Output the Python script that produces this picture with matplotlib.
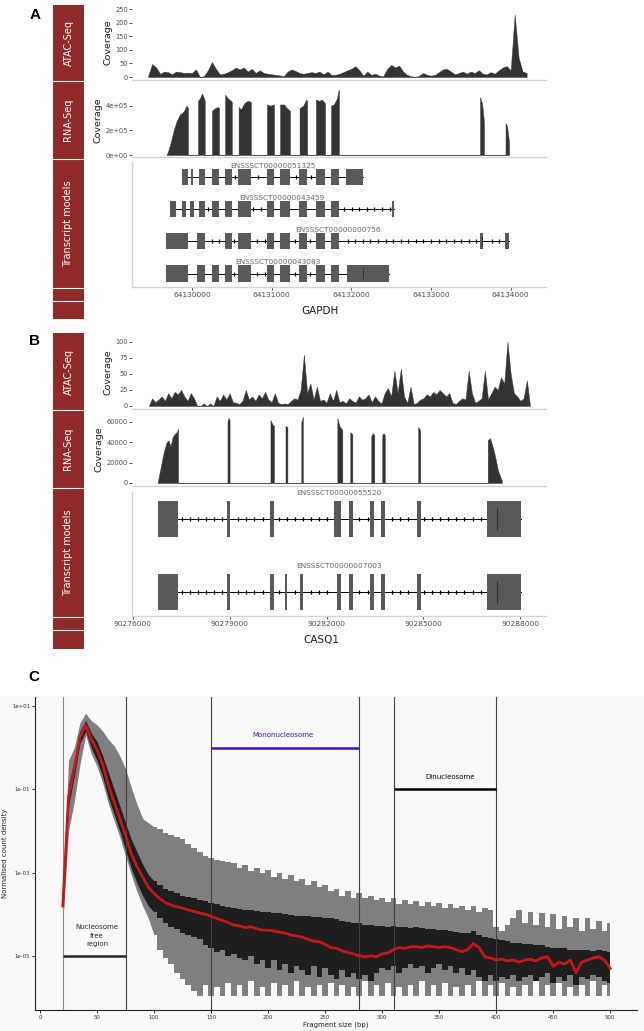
import numpy as np
import matplotlib.pyplot as plt
from matplotlib.patches import Rectangle
from matplotlib.lines import Line2D
from matplotlib.ticker import NullLocator

W, H = 644, 1031

# ---------------- A: GAPDH ----------------
gapdh_atac_start = 64129450
gapdh_atac_step = 50
gapdh_atac_cov = [5, 48, 35, 12, 20, 18, 10, 20, 18, 15,
                  16, 15, 28, 0, 3, 25, 55, 30, 10, 12,
                  18, 25, 35, 28, 35, 20, 30, 15, 25, 15,
                  12, 10, 8, 6, 3, 20, 28, 22, 15, 12,
                  15, 18, 15, 20, 10, 20, 8, 8, 12, 18,
                  25, 30, 40, 25, 5, 20, 8, 12, 5, 3,
                  30, 45, 35, 42, 20, 8, 3, 0, 5, 15,
                  8, 5, 8, 18, 28, 30, 20, 10, 15, 20,
                  12, 20, 15, 25, 12, 10, 18, 12, 25, 35,
                  40, 25, 230, 70, 20, 15]

gapdh_rna_pos = [64129680, 64129700, 64129740, 64129770, 64129810, 64129850, 64129890, 64129910, 64129930, 64129945, 64129950, 64129950,
                 64130075, 64130075, 64130100, 64130125, 64130150, 64130160, 64130160,
                 64130250, 64130250, 64130290, 64130325, 64130340, 64130340,
                 64130415, 64130415, 64130450, 64130490, 64130500, 64130500,
                 64130585, 64130585, 64130615, 64130655, 64130700, 64130740, 64130740,
                 64130940, 64130940, 64130980, 64131030, 64131030,
                 64131105, 64131105, 64131155, 64131190, 64131230, 64131230,
                 64131350, 64131350, 64131395, 64131435, 64131445, 64131445,
                 64131555, 64131555, 64131595, 64131630, 64131670, 64131670,
                 64131745, 64131745, 64131780, 64131820, 64131840, 64131845, 64131845,
                 64133615, 64133615, 64133640, 64133660, 64133665, 64133665,
                 64133935, 64133935, 64133955, 64133980, 64133980]
gapdh_rna_cov = [0, 30000, 120000, 200000, 280000, 330000, 350000, 370000, 400000, 390000, 380000, 0,
                 0, 440000, 460000, 500000, 460000, 440000, 0,
                 0, 360000, 380000, 390000, 380000, 0,
                 0, 490000, 460000, 440000, 430000, 0,
                 0, 390000, 370000, 420000, 440000, 430000, 0,
                 0, 410000, 400000, 410000, 0,
                 0, 410000, 410000, 380000, 360000, 0,
                 0, 380000, 400000, 450000, 440000, 0,
                 0, 450000, 440000, 450000, 420000, 0,
                 0, 400000, 410000, 460000, 530000, 520000, 0,
                 0, 470000, 420000, 300000, 250000, 0,
                 0, 260000, 230000, 100000, 0]

gapdh_tx_names = ['ENSSSCT00000051325', 'ENSSSCT00000043459',
                  'ENSSSCT00000000756', 'ENSSSCT00000043083']
gapdh_tx_exons = [
    [(64129875, 64129950), (64129990, 64130010), (64130090, 64130160), (64130250, 64130340),
     (64130415, 64130500), (64130580, 64130740), (64130940, 64131030), (64131105, 64131230),
     (64131345, 64131445), (64131555, 64131670), (64131745, 64131845), (64131935, 64132145)],
    [(64129725, 64129800), (64129875, 64129925), (64129975, 64130025), (64130090, 64130160),
     (64130250, 64130340), (64130415, 64130500), (64130580, 64130740), (64130940, 64131030),
     (64131105, 64131230), (64131345, 64131445), (64131555, 64131670), (64131745, 64131845),
     (64132515, 64132530)],
    [(64129675, 64129950), (64130065, 64130160), (64130415, 64130500), (64130580, 64130740),
     (64130940, 64131030), (64131105, 64131230), (64131345, 64131445), (64131555, 64131670),
     (64131745, 64131845), (64133615, 64133650), (64133930, 64133980)],
    [(64129675, 64129950), (64130065, 64130160), (64130250, 64130340), (64130415, 64130500),
     (64130580, 64130740), (64130940, 64131030), (64131105, 64131230), (64131345, 64131445),
     (64131555, 64131670), (64131745, 64131845), (64131945, 64132470)],
]
gapdh_cds_marks = [None, None, 64133635, 64132146]
gapdh_ticks = [64130000, 64131000, 64132000, 64133000, 64134000]

# ---------------- B: CASQ1 ----------------
casq1_atac_start = 90276500
casq1_atac_step = 100
casq1_atac_cov = [0, 12, 6, 10, 15, 8, 20, 12, 22, 18,
                  25, 15, 8, 20, 12, 0, 0, 4, 0, 4,
                  0, 15, 8, 18, 10, 20, 6, 5, 3, 8,
                  25, 10, 15, 8, 18, 12, 22, 10, 6, 20,
                  5, 3, 4, 3, 8, 12, 10, 25, 80, 20,
                  35, 10, 30, 8, 10, 5, 20, 8, 25, 6,
                  8, 4, 12, 8, 5, 15, 10, 12, 18, 6,
                  15, 8, 4, 20, 28, 15, 55, 20, 58, 15,
                  5, 30, 3, 5, 10, 12, 18, 15, 22, 18,
                  25, 20, 15, 20, 5, 3, 8, 12, 10, 55,
                  20, 5, 8, 12, 55, 10, 20, 30, 25, 45,
                  35, 100, 50, 20, 15, 8, 12, 40, 0]

casq1_rna_pos = [90276770, 90276865, 90276960, 90277050, 90277110, 90277175, 90277235, 90277300, 90277360, 90277405, 90277405,
                 90278935, 90278935, 90278965, 90279000, 90279000,
                 90280265, 90280265, 90280320, 90280375, 90280375,
                 90280730, 90280730, 90280790, 90280790,
                 90281220, 90281220, 90281270, 90281270,
                 90282335, 90282335, 90282400, 90282490, 90282490,
                 90282735, 90282735, 90282800, 90282800,
                 90283385, 90283385, 90283430, 90283480, 90283480,
                 90283725, 90283725, 90283765, 90283805, 90283805,
                 90284835, 90284835, 90284900, 90284900,
                 90286990, 90286990, 90287060, 90287120, 90287190, 90287310, 90287430, 90287430]
casq1_rna_cov = [0, 15000, 30000, 40000, 42000, 36000, 45000, 48000, 50000, 53000, 0,
                 0, 60000, 64000, 62000, 0,
                 0, 62000, 58000, 56000, 0,
                 0, 56000, 55000, 0,
                 0, 60000, 65000, 0,
                 0, 64000, 56000, 52000, 0,
                 0, 50000, 48000, 0,
                 0, 46000, 49000, 47000, 0,
                 0, 47000, 49000, 47000, 0,
                 0, 55000, 52000, 0,
                 0, 42000, 44000, 38000, 30000, 12000, 2000, 0]

casq1_tx_names = ['ENSSSCT00000055520', 'ENSSSCT00000007003']
casq1_tx_exons = [
    [(90276770, 90277390), (90278905, 90279010), (90280265, 90280390), (90282240, 90282460),
     (90282705, 90282830), (90283355, 90283480), (90283695, 90283820), (90284805, 90284930),
     (90286970, 90288020)],
    [(90276770, 90277390), (90278905, 90279010), (90280265, 90280390), (90280730, 90280790),
     (90281190, 90281270), (90282335, 90282460), (90282705, 90282830), (90283355, 90283480),
     (90283695, 90283820), (90284805, 90284930), (90286970, 90288020)],
]
casq1_cds_marks = [90287280, 90287280]
casq1_ticks = [90276000, 90279000, 90282000, 90285000, 90288000]

# ---------------- C: fragment size distribution (log10 values) ----------------
frag_size = np.arange(20, 501, 5)
mean_log = [-3.8, -1.2, -0.5, 0.25, 0.54, 0.2, -0.05, -0.4, -0.9, -1.3,
            -1.7, -2.1, -2.55, -2.85, -3.1, -3.35, -3.5, -3.62, -3.72, -3.78,
            -3.82, -3.85, -3.9, -3.93, -3.97, -4.0, -4.05, -4.1, -4.15, -4.2,
            -4.26, -4.28, -4.32, -4.3, -4.35, -4.38, -4.38, -4.4, -4.43, -4.45,
            -4.5, -4.52, -4.55, -4.6, -4.65, -4.66, -4.72, -4.8, -4.82, -4.88,
            -4.92, -4.95, -5.0, -5.02, -5.0, -5.02, -4.95, -4.93, -4.85, -4.8,
            -4.82, -4.78, -4.78, -4.8, -4.76, -4.78, -4.8, -4.78, -4.8, -4.85,
            -4.9, -4.85, -4.7, -4.8, -5.02, -5.05, -5.1, -5.08, -5.12, -5.1,
            -5.15, -5.1, -5.08, -5.12, -5.05, -5.02, -5.25, -5.15, -5.2, -5.1,
            -5.4, -5.15, -5.1, -5.05, -5.02, -5.1, -5.3]
sd_hi_log = [-3.6, -0.9, -0.3, 0.4, 0.65, 0.35, 0.15, -0.2, -0.6, -1.0,
             -1.4, -1.8, -2.2, -2.5, -2.8, -3.05, -3.2, -3.3, -3.4, -3.45,
             -3.5, -3.55, -3.58, -3.6, -3.65, -3.68, -3.72, -3.75, -3.8, -3.82,
             -3.85, -3.88, -3.9, -3.9, -3.92, -3.94, -3.94, -3.96, -3.98, -4.0,
             -4.02, -4.04, -4.05, -4.05, -4.06, -4.06, -4.08, -4.1, -4.12, -4.15,
             -4.18, -4.2, -4.22, -4.25, -4.25, -4.28, -4.28, -4.3, -4.28, -4.3,
             -4.3, -4.32, -4.3, -4.32, -4.35, -4.35, -4.38, -4.38, -4.4, -4.42,
             -4.45, -4.45, -4.4, -4.5, -4.55, -4.58, -4.6, -4.62, -4.65, -4.68,
             -4.7, -4.72, -4.72, -4.75, -4.75, -4.78, -4.8, -4.82, -4.82, -4.85,
             -4.86, -4.85, -4.86, -4.88, -4.86, -4.88, -4.9]
sd_lo_log = [-4.0, -1.4, -0.7, 0.1, 0.4, 0.0, -0.3, -0.7, -1.2, -1.6,
             -2.0, -2.45, -2.9, -3.25, -3.55, -3.8, -3.95, -4.1, -4.2, -4.3,
             -4.35, -4.45, -4.5, -4.55, -4.6, -4.75, -4.8, -4.9, -4.85, -5.0,
             -4.95, -5.05, -5.1, -5.0, -5.2, -5.1, -5.3, -5.1, -5.35, -5.2,
             -5.4, -5.25, -5.35, -5.45, -5.25, -5.5, -5.3, -5.45, -5.55, -5.35,
             -5.5, -5.4, -5.55, -5.45, -5.6, -5.4, -5.3, -5.35, -5.25, -5.4,
             -5.3, -5.2, -5.3, -5.25, -5.4, -5.3, -5.2, -5.35, -5.25, -5.4,
             -5.3, -5.45, -5.35, -5.5, -5.6, -5.45, -5.6, -5.5, -5.55, -5.45,
             -5.6, -5.5, -5.45, -5.6, -5.5, -5.4, -5.65, -5.5, -5.6, -5.45,
             -5.7, -5.5, -5.55, -5.45, -5.5, -5.6, -5.65]
range_hi_log = [-3.4, -0.3, 0.0, 0.6, 0.83, 0.65, 0.55, 0.4, 0.2, 0.05,
                -0.2, -0.5, -0.95, -1.35, -1.7, -1.8, -1.9, -1.95, -2.05, -2.1,
                -2.15, -2.2, -2.3, -2.4, -2.5, -2.6, -2.65, -2.7, -2.72, -2.75,
                -2.77, -2.9, -2.82, -2.95, -2.88, -3.0, -2.93, -3.1, -3.0, -3.15,
                -3.05, -3.2, -3.15, -3.3, -3.2, -3.35, -3.3, -3.45, -3.4, -3.55,
                -3.45, -3.6, -3.5, -3.62, -3.55, -3.65, -3.6, -3.7, -3.6, -3.75,
                -3.65, -3.75, -3.68, -3.8, -3.7, -3.8, -3.72, -3.85, -3.75, -3.85,
                -3.8, -3.9, -3.8, -3.95, -3.85, -3.9, -4.3, -4.4, -4.25, -4.1,
                -3.9, -4.2, -3.95, -4.25, -3.98, -4.3, -4.0, -4.35, -4.05, -4.3,
                -4.1, -4.4, -4.1, -4.35, -4.15, -4.4, -4.2]
range_lo_log = [-4.2, -2.0, -1.3, -0.4, 0.3, -0.15, -0.45, -0.85, -1.35, -1.75,
                -2.15, -2.6, -3.05, -3.45, -3.8, -4.1, -4.5, -4.85, -5.05, -5.2,
                -5.4, -5.55, -5.7, -5.85, -5.96, -5.7, -5.96, -5.75, -5.96, -5.65,
                -5.96, -5.7, -5.96, -5.6, -5.96, -5.75, -5.96, -5.65, -5.96, -5.7,
                -5.96, -5.6, -5.96, -5.75, -5.96, -5.7, -5.96, -5.65, -5.96, -5.7,
                -5.96, -5.75, -5.96, -5.6, -5.96, -5.7, -5.96, -5.65, -5.96, -5.75,
                -5.96, -5.7, -5.96, -5.6, -5.96, -5.7, -5.96, -5.65, -5.96, -5.75,
                -5.96, -5.7, -5.96, -5.6, -5.96, -5.7, -5.96, -5.65, -5.96, -5.75,
                -5.96, -5.7, -5.96, -5.6, -5.96, -5.7, -5.96, -5.65, -5.96, -5.75,
                -5.96, -5.7, -5.96, -5.6, -5.96, -5.7, -5.96]
cut_lines = [20, 75, 150, 280, 310, 400]
regions = [('Nucleosome\nfree\nregion', 20, 75, 1e-5, 50, 10 ** -4.52, '#1f2a1f'),
           ('Mononucleosome', 150, 280, 1.0, 213, 10 ** 0.3, '#4010C8'),
           ('Dinucleosome', 310, 400, 0.1, 360, 10 ** -0.7, '#000000')]

STRIP_RED = '#8E2A2A'
TICK_GREY = '#4D4D4D'
LINE_GREY = '#D3D3D3'
COV_COL = '#333333'
EXON_COL = '#595959'

fig = plt.figure(figsize=(W / 100, H / 100), dpi=100)


def px_box(x0, y0, x1, y1):
    return [x0 / W, 1 - y1 / H, (x1 - x0) / W, (y1 - y0) / H]


def strip(edges, labels):
    top, bottom = edges[0], edges[-1]
    fig.patches.append(Rectangle((53 / W, 1 - bottom / H), 31 / W, (bottom - top) / H,
                                 transform=fig.transFigure, color=STRIP_RED, lw=0))
    for y in edges[1:-1]:
        fig.add_artist(Line2D([53 / W, 84 / W], [1 - y / H] * 2, color='white', lw=0.8))
    for a, b, lab in zip(edges[:-1], edges[1:], labels):
        fig.text(68.5 / W, 1 - (a + b) / 2 / H, lab, rotation=90, ha='center', va='center',
                 color='white', fontsize=7)


def track(box, xlim, ylim, yticks, ylabels):
    ax = fig.add_axes(px_box(*box))
    ax.set_xlim(*xlim)
    ax.set_ylim(*ylim)
    ax.set_xticks([])
    ax.set_yticks(yticks)
    ax.set_yticklabels(ylabels)
    for s in ['top', 'right', 'left']:
        ax.spines[s].set_visible(False)
    ax.spines['bottom'].set_color(LINE_GREY)
    ax.spines['bottom'].set_linewidth(1.0)
    ax.tick_params(axis='y', length=2, width=0.6, color='#333333', labelsize=4.8,
                   labelcolor=TICK_GREY, pad=1)
    ax.set_ylabel('Coverage', fontsize=6.8, color='#1a1a1a', labelpad=2)
    return ax


def models(box, xlim, ylim, names, exons, cds, step, ticks, height):
    ax = fig.add_axes(px_box(*box))
    ax.set_xlim(*xlim)
    ax.set_ylim(*ylim)
    for row, (name, ex, mark) in enumerate(zip(names, exons, cds)):
        start, end = ex[0][0], ex[-1][1]
        ax.plot([start, end], [row, row], color='black', lw=0.7, zorder=1)
        grid = np.arange(start, end, step)
        inside = np.zeros(len(grid), dtype=bool)
        for s, e in ex:
            inside |= (grid >= s - step * 0.3) & (grid <= e + step * 0.3)
        ax.plot(grid[~inside], np.full((~inside).sum(), row), ls='none', marker='|',
                ms=2.2, mew=0.9, color='black', zorder=1)
        for s, e in ex:
            ax.add_patch(Rectangle((s, row - height / 2), e - s, height, color=EXON_COL, lw=0, zorder=2))
        if mark is not None:
            ax.plot([mark, mark], [row - height * 0.3, row + height * 0.3], color='#2a2a2a', lw=0.6, zorder=3)
        ax.text((start + end) / 2, row - 0.36, name, ha='center', va='center', fontsize=5.3,
                color='#666666')
    for s in ['top', 'right']:
        ax.spines[s].set_visible(False)
    for s in ['left', 'bottom']:
        ax.spines[s].set_color(LINE_GREY)
        ax.spines[s].set_linewidth(1.0)
    ax.set_yticks([])
    ax.set_xticks(ticks)
    ax.set_xticklabels([str(t) for t in ticks])
    ax.tick_params(axis='x', length=2, width=0.6, color='#333333', labelsize=5.4,
                   labelcolor=TICK_GREY, pad=1.5)
    return ax


# ---- panel A ----
xlim_a = (64129247, 64134443)
strip([5, 81, 159, 288, 301, 319], ['ATAC-Seq', 'RNA-Seq', 'Transcript models'])
ax = track((132, 5, 546, 80), xlim_a, (-11, 265), [0, 50, 100, 150, 200, 250],
           ['0', '50', '100', '150', '200', '250'])
pos = gapdh_atac_start + gapdh_atac_step * np.arange(len(gapdh_atac_cov))
ax.fill_between(pos, gapdh_atac_cov, color=COV_COL, lw=0.3, edgecolor=COV_COL)
ax = track((132, 84, 546, 157), xlim_a, (-16000, 576000), [0, 200000, 400000],
           ['0e+00', '2e+05', '4e+05'])
ax.fill_between(gapdh_rna_pos, gapdh_rna_cov, color=COV_COL, lw=0.3, edgecolor=COV_COL)
models((132, 162, 546, 287), xlim_a, (3.42, -0.47), gapdh_tx_names, gapdh_tx_exons,
       gapdh_cds_marks, 95, gapdh_ticks, 0.5)
fig.text(320 / W, 1 - 311 / H, 'GAPDH', ha='center', va='center', fontsize=7.5, color='#1a1a1a')
fig.text(35 / W, 1 - 15 / H, 'A', ha='center', va='center', fontsize=11, fontweight='bold',
         family='Liberation Sans')

# ---- panel B ----
xlim_b = (90275980, 90288793)
strip([333, 410, 488, 617, 630, 649], ['ATAC-Seq', 'RNA-Seq', 'Transcript models'])
ax = track((132, 336, 546, 409), xlim_b, (-4.7, 109), [0, 25, 50, 75, 100],
           ['0', '25', '50', '75', '100'])
pos = casq1_atac_start + casq1_atac_step * np.arange(len(casq1_atac_cov))
ax.fill_between(pos, casq1_atac_cov, color=COV_COL, lw=0.3, edgecolor=COV_COL)
ax = track((132, 413, 546, 486), xlim_b, (-2950, 68800), [0, 20000, 40000, 60000],
           ['0', '20000', '40000', '60000'])
ax.fill_between(casq1_rna_pos, casq1_rna_cov, color=COV_COL, lw=0.3, edgecolor=COV_COL)
models((132, 492, 546, 616), xlim_b, (1.33, -0.37), casq1_tx_names, casq1_tx_exons,
       casq1_cds_marks, 250, casq1_ticks, 0.49)
fig.text(321 / W, 1 - 640 / H, 'CASQ1', ha='center', va='center', fontsize=7.5, color='#1a1a1a')
fig.text(35 / W, 1 - 341 / H, 'B', ha='center', va='center', fontsize=11, fontweight='bold',
         family='Liberation Sans')

# ---- panel C ----
fig.patches.append(Rectangle((0, 0), 1, 1 - 696 / H, transform=fig.transFigure,
                             color='#F9F9F9', lw=0, zorder=-5))
fig.text(34 / W, 1 - 677 / H, 'C', ha='center', va='center', fontsize=11, fontweight='bold',
         family='Liberation Sans')
axc = fig.add_axes(px_box(35, 697, 637, 1010))
axc.set_facecolor('#F9F9F9')
head = frag_size <= 100
tail = frag_size >= 100
bands = [(range_lo_log, range_hi_log, '#7F7F7F'), (sd_lo_log, sd_hi_log, '#1E1E1E')]
for lo, hi, col in bands:
    lo = 10.0 ** np.array(lo)
    hi = 10.0 ** np.array(hi)
    axc.fill_between(frag_size, lo, hi, where=head, color=col, lw=0)
    axc.fill_between(frag_size, lo, hi, where=tail, color=col, lw=0, step='mid')
for x in cut_lines:
    axc.axvline(x, color='#8A8A8A' if x == 20 else '#404040', lw=0.8, zorder=2)
for label, x0, x1, y, tx, ty, col in regions:
    axc.hlines(y, x0, x1, color=col, lw=1.8, zorder=3)
    axc.text(tx, ty, label, ha='center', va='center', fontsize=5, color=col, linespacing=1.5)
axc.plot(frag_size, 10.0 ** np.array(mean_log), color='#C8161D', lw=2.0, zorder=4)
axc.set_yscale('log')
axc.set_xlim(-4.4, 523.5)
axc.set_ylim(10 ** -6.3, 10 ** 1.22)
axc.set_yticks([1e1, 1e-1, 1e-3, 1e-5])
axc.set_yticklabels(['1e+01', '1e-01', '1e-03', '1e-05'])
axc.yaxis.set_minor_locator(NullLocator())
axc.set_xticks(np.arange(0, 501, 50))
axc.set_xticklabels([str(v) for v in range(0, 501, 50)])
axc.tick_params(length=2, width=0.6, labelsize=3.9, labelcolor='#333333', pad=1.5)
for s in ['top', 'right']:
    axc.spines[s].set_visible(False)
for s in ['left', 'bottom']:
    axc.spines[s].set_color('#222222')
    axc.spines[s].set_linewidth(0.8)
axc.set_xlabel('Fragment size (bp)', fontsize=5, color='#222222', labelpad=1)
axc.set_ylabel('Normalised count density', fontsize=5, color='#222222', labelpad=3)

fig.savefig('out.png', dpi=100)
